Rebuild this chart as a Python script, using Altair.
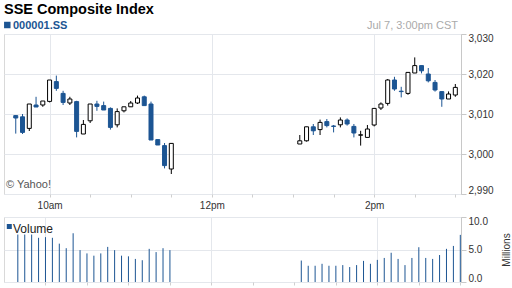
import altair as alt
import pandas as pd

BLUE = "#1c5593"
FONT = "Liberation Sans"

TITLE = "SSE Composite Index"
TICKER = "000001.SS"
STAMP = "Jul 7, 3:00pm CST"
CREDIT = "\u00a9 Yahoo!"

times = ["09:35", "09:40", "09:45", "09:50", "09:55", "10:00", "10:05", "10:10",
         "10:15", "10:20", "10:25", "10:30", "10:35", "10:40", "10:45", "10:50",
         "10:55", "11:00", "11:05", "11:10", "11:15", "11:20", "11:25", "11:30",
         "13:05", "13:10", "13:15", "13:20", "13:25", "13:30", "13:35", "13:40",
         "13:45", "13:50", "13:55", "14:00", "14:05", "14:10", "14:15", "14:20",
         "14:25", "14:30", "14:35", "14:40", "14:45", "14:50", "14:55", "15:00"]

opens = [3009.6, 3009.3, 3006.4, 3012.25, 3012.25, 3013.15, 3018.1, 3015.15,
         3012.75, 3013.1, 3005.0, 3008.3, 3012.5, 3012.1, 3011.4, 3007.3,
         3010.8, 3011.8, 3012.75, 3014.3, 3012.5, 3003.6, 3002.1, 2996.25,
         3002.5, 3003.3, 3006.8, 3006.1, 3008.1, 3007.0, 3007.3, 3008.5,
         3006.9, 3004.7, 3004.15, 3007.25, 3011.5, 3012.65, 3018.5, 3015.7,
         3015.15, 3020.25, 3022.1, 3020.0, 3017.9, 3015.6, 3013.75, 3014.75]
highs = [3009.7, 3010.0, 3012.5, 3014.3, 3013.25, 3018.5, 3019.6, 3015.8,
         3014.3, 3013.3, 3008.5, 3012.5, 3013.3, 3013.1, 3011.65, 3011.4,
         3011.8, 3013.25, 3014.6, 3014.6, 3013.1, 3003.6, 3002.75, 3002.65,
         3004.75, 3006.8, 3007.5, 3008.6, 3008.75, 3007.25, 3009.15, 3008.9,
         3007.5, 3005.8, 3007.25, 3011.4, 3012.9, 3018.75, 3019.3, 3016.8,
         3020.4, 3024.15, 3022.1, 3021.5, 3018.5, 3015.6, 3015.65, 3017.5]
lows = [3005.1, 3005.0, 3005.75, 3011.75, 3011.8, 3012.9, 3015.8, 3012.25,
        3012.25, 3004.15, 3005.0, 3007.75, 3010.8, 3011.0, 3006.1, 3006.65,
        3010.4, 3011.8, 3012.5, 3012.1, 3003.5, 3002.25, 2996.4, 2995.0,
        3002.5, 3003.1, 3004.75, 3004.75, 3006.65, 3005.4, 3006.65, 3007.1,
        3004.15, 3002.1, 3004.15, 3006.9, 3011.0, 3012.1, 3015.8, 3014.15,
        3014.8, 3020.25, 3020.15, 3017.9, 3015.6, 3011.8, 3013.75, 3014.3]
closes = [3009.0, 3005.4, 3012.5, 3011.75, 3013.25, 3018.5, 3016.4, 3012.9,
          3013.75, 3005.65, 3007.4, 3012.5, 3011.9, 3011.0, 3006.65, 3010.6,
          3011.8, 3012.75, 3014.0, 3012.1, 3003.5, 3002.25, 2997.1, 3002.65,
          3003.3, 3006.8, 3005.8, 3007.9, 3007.1, 3006.9, 3008.5, 3007.5,
          3005.25, 3004.8, 3006.25, 3011.4, 3012.5, 3018.5, 3016.25, 3015.6,
          3020.4, 3022.1, 3020.8, 3018.3, 3016.0, 3013.75, 3015.0, 3016.65]
volumes = [None, 7.3, 7.3, 7.3, 6.8, 6.9, 6.8, 5.9,
           5.2, 7.5, 4.9, 4.4, 4.05, 4.4, 5.4, 4.9,
           4.05, 3.95, 3.55, 3.35, 5.1, 4.6, 5.2, 4.9,
           3.3, 2.5, 2.5, 2.8, 2.5, 2.5, 2.6, 2.3,
           2.6, 3.25, 2.8, 3.4, 3.7, 4.5, 3.55, 2.6,
           3.7, 5.35, 3.7, 3.55, 4.15, 5.1, 5.55, 7.25]

price_ticks = [2990, 3000, 3010, 3020, 3030]
volume_ticks = [0, 5, 10]
time_ticks = ["10:00", "10:30", "11:00", "11:30", "12:00", "12:30", "13:00",
              "13:30", "14:00", "14:30", "15:00"]
time_labels = {"10:00": "10am", "12:00": "12pm", "14:00": "2pm"}


def minutes(s):
    h, m = s.split(":")
    return int(h) * 60 + int(m)


df = pd.DataFrame({
    "t": [minutes(s) for s in times],
    "open": opens, "high": highs, "low": lows, "close": closes, "vol": volumes,
})
df["dir"] = ["up" if c >= o else "down" for o, c in zip(opens, closes)]

tick_vals = [minutes(s) for s in time_ticks]
label_expr = " : ".join(
    f"datum.value == {minutes(k)} ? '{v}'" for k, v in time_labels.items()
) + " : ''"
grid_test = " || ".join(f"datum.value == {minutes(k)}" for k in time_labels)
grid_op = {"condition": {"test": grid_test, "value": 1}, "value": 0}

xscale = alt.Scale(domain=[570, 900.5], nice=False, zero=False)
W = 457

x_main = alt.X("t:Q", scale=xscale, title=None,
               axis=alt.Axis(values=tick_vals, labelExpr=label_expr, domain=False,
                             tickSize=3, tickColor="#cfcfcf", labelPadding=3,
                             gridOpacity=grid_op, labelFlush=False))
x_vol = alt.X("t:Q", scale=xscale, title=None,
              axis=alt.Axis(values=tick_vals, labels=False, domain=False,
                            tickSize=3, tickColor="#cfcfcf", gridOpacity=grid_op))

stroke_scale = alt.Scale(domain=["up", "down"], range=["black", BLUE])
fill_scale = alt.Scale(domain=["up", "down"], range=["white", BLUE])
yscale = alt.Scale(domain=[2990, 3030], nice=False, zero=False)
y_axis = alt.Axis(orient="right", values=price_ticks, format=",d", title=None,
                  tickSize=5, labelPadding=2, labelFlush=True, labelFlushOffset=1)

base = alt.Chart(df)
wicks = base.mark_rule(strokeWidth=1).encode(
    x=x_main,
    y=alt.Y("low:Q", scale=yscale, axis=y_axis),
    y2="high:Q",
    stroke=alt.Stroke("dir:N", scale=stroke_scale, legend=None),
)
bodies = base.mark_bar(size=4, strokeWidth=1).encode(
    x=x_main,
    y=alt.Y("open:Q", scale=yscale, axis=y_axis),
    y2="close:Q",
    stroke=alt.Stroke("dir:N", scale=stroke_scale, legend=None),
    fill=alt.Fill("dir:N", scale=fill_scale, legend=None),
)

one = pd.DataFrame({"a": [0]})
def label(text, x, y, **kw):
    return alt.Chart(one).mark_text(text=text, font=FONT, baseline="alphabetic",
                                    **kw).encode(x=alt.value(x), y=alt.value(y))

title_t = label(TITLE, 0, -20.5, align="left", fontSize=14.5, fontWeight="bold", color="#000")
square_t = alt.Chart(one).mark_square(size=42, filled=True, color=BLUE, opacity=1).encode(
    x=alt.value(3.3), y=alt.value(-9))
ticker_t = label(TICKER, 9, -5, align="left", fontSize=11, fontWeight="bold", color=BLUE)
stamp_t = label(STAMP, W - 3, -5, align="right", fontSize=11, color="#aaaaaa")
credit_t = label(CREDIT, 2, 154, align="left", fontSize=11, color="#555555")

main = alt.layer(wicks, bodies, credit_t, title_t, square_t, ticker_t, stamp_t).properties(
    width=W, height=160)

vbars = base.transform_filter("datum.vol != null").mark_rule(strokeWidth=1, color=BLUE).encode(
    x=x_vol,
    y=alt.Y("vol:Q", scale=alt.Scale(domain=[0, 10], nice=False),
            axis=alt.Axis(orient="right", values=volume_ticks, format=".1f",
                          title="Millions", titleX=45, titleY=32.5, titleAngle=270,
                          titleAlign="center", titleBaseline="middle",
                          titleFontSize=10, titleFontWeight="normal", titleColor="#333",
                          titleFont=FONT, tickSize=5, labelPadding=2,
                          labelFlush=True, labelFlushOffset=1)),
    y2=alt.datum(0),
)
vsq = alt.Chart(one).mark_square(size=25, filled=True, color=BLUE, opacity=1).encode(
    x=alt.value(5.3), y=alt.value(9.5))
vlab = label("Volume", 9, 16, align="left", fontSize=12, color="#222")

vol = alt.layer(vbars, vsq, vlab).properties(width=W, height=65)

chart = alt.vconcat(main, vol, spacing=23, bounds="flush").properties(
    padding={"left": 3, "top": 1, "right": 0, "bottom": 3}
).configure_view(stroke="#d9d9d9").configure_axis(
    labelFont=FONT, labelFontSize=10, labelColor="#333", gridColor="#e4e7ec",
    domainColor="#c8c8c8", tickColor="#c8c8c8",
)

chart.save("out.html", embed_options={"renderer": "svg", "actions": False})
